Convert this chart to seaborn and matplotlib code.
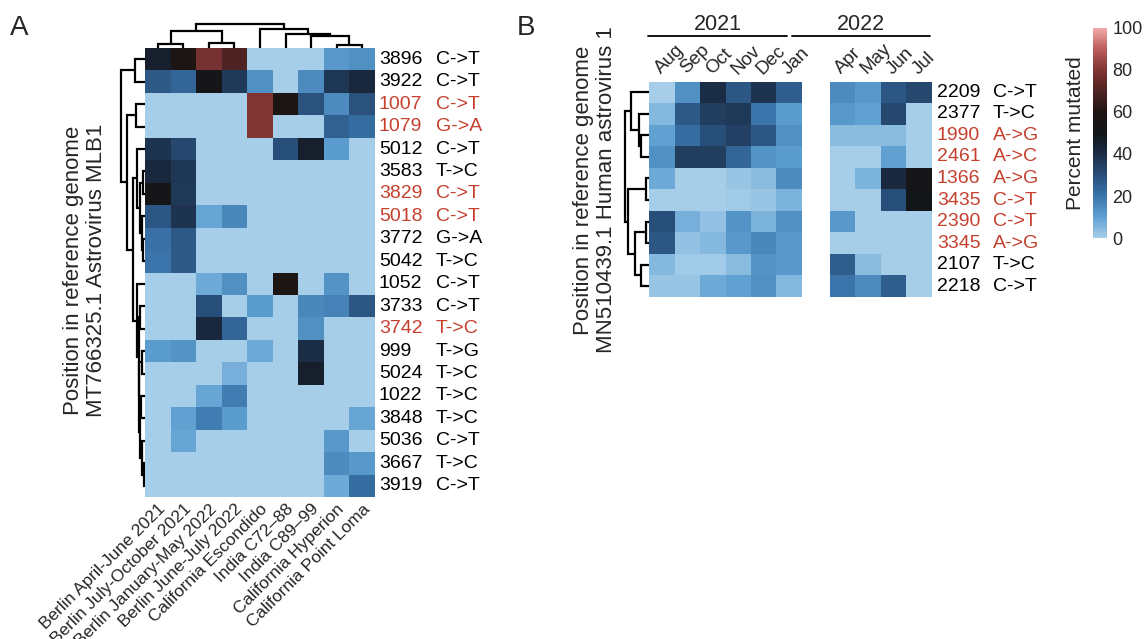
import numpy as np
import pandas as pd
import matplotlib
matplotlib.use("Agg")
import matplotlib.pyplot as plt
import seaborn as sns
from matplotlib.colors import LinearSegmentedColormap
from matplotlib.lines import Line2D
from matplotlib.transforms import blended_transform_factory, offset_copy

sns.set_theme(style="white")
plt.rcParams["font.family"] = ["Liberation Sans", "DejaVu Sans"]

# ---------------- Panel A data ----------------
a_samples = ["Berlin April-June 2021", "Berlin July-October 2021", "Berlin January-May 2022",
             "Berlin June-July 2022", "California Escondido", "India C72\u201388", "India C89\u201399",
             "California Hyperion", "California Point Loma"]
a_positions = ["3896", "3922", "1007", "1079", "5012", "3583", "3829", "5018", "3772", "5042",
               "1052", "3733", "3742", "999", "5024", "1022", "3848", "5036", "3667", "3919"]
a_mutations = ["C->T", "C->T", "C->T", "G->A", "C->T", "T->C", "C->T", "C->T", "G->A", "T->C",
               "C->T", "C->T", "T->C", "T->G", "T->C", "T->C", "T->C", "C->T", "T->C", "C->T"]
a_highlight = [False, False, True, True, False, False, True, True, False, False,
               False, False, True, False, False, False, False, False, False, False]
a_values = [
    [46, 58, 78, 70, 0, 0, 0, 12, 14],
    [27, 24, 52, 36, 14, 0, 15, 37, 42],
    [0, 0, 0, 0, 80, 58, 29, 15, 29],
    [0, 0, 0, 0, 80, 0, 0, 25, 22],
    [38, 32, 0, 0, 0, 30, 46, 11, 0],
    [42, 37, 0, 0, 0, 0, 0, 0, 0],
    [52, 36, 0, 0, 0, 0, 0, 0, 0],
    [28, 38, 9, 16, 0, 0, 0, 0, 0],
    [21, 27, 0, 0, 0, 0, 0, 0, 0],
    [20, 27, 0, 0, 0, 0, 0, 0, 0],
    [0, 0, 8, 14, 0, 58, 0, 13, 0],
    [0, 0, 30, 0, 11, 0, 16, 17, 28],
    [0, 0, 42, 24, 0, 0, 14, 0, 0],
    [11, 13, 0, 0, 8, 0, 40, 0, 0],
    [0, 0, 0, 7, 0, 0, 46, 0, 0],
    [0, 0, 9, 18, 0, 0, 0, 0, 0],
    [0, 10, 18, 11, 0, 0, 0, 0, 9],
    [0, 9, 0, 0, 0, 0, 0, 12, 0],
    [0, 0, 0, 0, 0, 0, 0, 15, 12],
    [0, 0, 0, 0, 0, 0, 0, 8, 22],
]
# dendrograms: (left, right, height); leaves are row/column indices
a_row_tree = ((0, 1, 10),
              ((2, 3, 9),
               ((4, ((5, 6, 2.5), (7, (8, 9, 2), 3.5), 5), 8.3),
                (10, ((11, 12, 5),
                      ((13, 14, 3),
                       ((15, 16, 4.5), (17, (18, 19, 1.5), 3), 5.5), 6), 6.5), 7.7),
                12.3),
               17.7),
              24)
a_col_tree = (((0, 1, 4.3), (2, 3, 5.3), 16.7),
              (4, (5, (6, (7, 8, 3.3), 12), 14.3), 18.7),
              24.3)

# ---------------- Panel B data ----------------
b_months_2021 = ["Aug", "Sep", "Oct", "Nov", "Dec", "Jan"]
b_months_2022 = ["Apr", "May", "Jun", "Jul"]
b_years = ["2021", "2022"]
b_positions = ["2209", "2377", "1990", "2461", "1366", "3435", "2390", "3345", "2107", "2218"]
b_mutations = ["C->T", "T->C", "A->G", "A->C", "A->G", "C->T", "C->T", "A->G", "T->C", "C->T"]
b_highlight = [False, False, True, True, True, True, True, True, False, False]
b_values_first = [
    [0, 14, 40, 28, 38, 26],
    [5, 27, 35, 36, 20, 11],
    [10, 22, 30, 34, 28, 14],
    [14, 35, 35, 24, 13, 11],
    [8, 0, 0, 2, 4, 15],
    [0, 0, 0, 1, 2, 6],
    [30, 7, 3, 13, 6, 14],
    [28, 3, 5, 12, 16, 12],
    [5, 1, 1, 4, 13, 12],
    [2, 2, 8, 10, 14, 5],
]
b_values_second = [
    [15, 12, 28, 32],
    [12, 10, 32, 0],
    [4, 4, 4, 0],
    [0, 0, 10, 0],
    [0, 6, 42, 52],
    [0, 0, 30, 50],
    [12, 0, 0, 0],
    [0, 0, 0, 0],
    [26, 4, 0, 0],
    [20, 15, 26, 0],
]
b_row_tree = ((0, (1, (2, 3, 7.6), 10.3), 17.6),
              ((4, 5, 3.3), ((6, 7, 3.3), (8, 9, 7.6), 13.6), 21),
              24)

cbar_ticks = [0, 20, 40, 60, 80, 100]

# ---------------- styling ----------------
W, H = 1148, 639
RED = "#c6402e"
cmap = LinearSegmentedColormap.from_list(
    "pm",
    [(0.00, "#a6cee9"), (0.10, "#5fa0d2"), (0.20, "#3a74aa"), (0.30, "#284e78"),
     (0.40, "#1a2d45"), (0.50, "#131619"), (0.60, "#1f1313"), (0.70, "#4e2323"),
     (0.80, "#803434"), (0.90, "#ba5c5c"), (1.00, "#f2a8a8")])

fig = plt.figure(figsize=(W / 100, H / 100), dpi=100)


def px_axes(x0, y0, x1, y1):
    return fig.add_axes([x0 / W, 1 - y1 / H, (x1 - x0) / W, (y1 - y0) / H])


def draw_tree(ax, tree, orient):
    def rec(node):
        if isinstance(node, int):
            return node + 0.5, 0.0
        l, r, h = node
        pl, hl = rec(l)
        pr, hr = rec(r)
        if orient == "left":
            ax.plot([hl, h, h, hr], [pl, pl, pr, pr], color="black", lw=1.6,
                    solid_joinstyle="miter", solid_capstyle="butt")
        else:
            ax.plot([pl, pl, pr, pr], [hl, h, h, hr], color="black", lw=1.6,
                    solid_joinstyle="miter", solid_capstyle="butt")
        return (pl + pr) / 2, h
    rec(tree)
    ax.set_axis_off()


# ---------------- Panel A ----------------
dfa = pd.DataFrame(a_values, index=a_positions, columns=a_samples)
axA = px_axes(145, 48, 375, 497)
cax = px_axes(1093, 28, 1107, 238)
sns.heatmap(dfa, ax=axA, cmap=cmap, vmin=0, vmax=100, cbar_ax=cax,
            xticklabels=a_samples, yticklabels=False)
axA.tick_params(axis="x", length=0, pad=3, labelsize=12.5)
for t in axA.get_xticklabels():
    t.set_rotation(45)
    t.set_ha("right")
    t.set_va("top")
    t.set_rotation_mode("anchor")
axA.set_xlabel("")
axA.set_ylabel("")
trA = blended_transform_factory(fig.transFigure, axA.transData)
for i, (p, m, hl) in enumerate(zip(a_positions, a_mutations, a_highlight)):
    c = RED if hl else "black"
    axA.text(379 / W, i + 0.5, p, transform=trA, ha="left", va="center", fontsize=14, color=c)
    axA.text(436 / W, i + 0.5, m, transform=trA, ha="left", va="center", fontsize=14, color=c)

rdA = px_axes(118, 48, 145, 497)
draw_tree(rdA, a_row_tree, "left")
rdA.set_xlim(27, 0)
rdA.set_ylim(len(a_positions), 0)

cdA = px_axes(145, 21, 375, 48)
draw_tree(cdA, a_col_tree, "top")
cdA.set_xlim(0, len(a_samples))
cdA.set_ylim(0, 27)

fig.text(85 / W, 1 - 270 / H, "Position in reference genome\nMT766325.1 Astrovirus MLB1",
         rotation=90, ha="center", va="center", fontsize=16, linespacing=1.1)

# colorbar
cax.tick_params(axis="y", length=0, pad=4, labelsize=13)
cax.set_yticks(cbar_ticks)
cax.set_yticklabels([str(t) for t in cbar_ticks])
cax.yaxis.set_label_position("left")
cax.set_ylabel("Percent mutated", fontsize=15, labelpad=6)
for s in cax.spines.values():
    s.set_visible(False)

# ---------------- Panel B ----------------
dfb1 = pd.DataFrame(b_values_first, index=b_positions, columns=b_months_2021)
dfb2 = pd.DataFrame(b_values_second, index=b_positions, columns=b_months_2022)
axB1 = px_axes(649, 81.5, 802, 297)
axB2 = px_axes(829.5, 81.5, 932, 297)
for ax, df in ((axB1, dfb1), (axB2, dfb2)):
    sns.heatmap(df, ax=ax, cmap=cmap, vmin=0, vmax=100, cbar=False,
                xticklabels=False, yticklabels=False)
    ax.set_xlabel("")
    ax.set_ylabel("")
    tr = offset_copy(blended_transform_factory(ax.transData, ax.transAxes),
                     fig=fig, x=2, y=4, units="dots")
    for j, month in enumerate(df.columns):
        ax.text(j + 0.5, 1.0, month, transform=tr, rotation=45, rotation_mode="anchor",
                ha="left", va="bottom", fontsize=13.5)

trB = blended_transform_factory(fig.transFigure, axB2.transData)
for i, (p, m, hl) in enumerate(zip(b_positions, b_mutations, b_highlight)):
    c = RED if hl else "black"
    axB2.text(937 / W, i + 0.5, p, transform=trB, ha="left", va="center", fontsize=14, color=c)
    axB2.text(993 / W, i + 0.5, m, transform=trB, ha="left", va="center", fontsize=14, color=c)

rdB = px_axes(623, 81.5, 649, 297)
draw_tree(rdB, b_row_tree, "left")
rdB.set_xlim(26, 0)
rdB.set_ylim(len(b_positions), 0)

# year headers
for year, (x0, x1) in zip(b_years, [(648, 787), (792, 930)]):
    fig.add_artist(Line2D([x0 / W, x1 / W], [1 - 36 / H, 1 - 36 / H], color="black", lw=1.3,
                          transform=fig.transFigure))
    fig.text((x0 + x1) / 2 / W, 1 - 24 / H, year, ha="center", va="center", fontsize=15.5)

fig.text(595 / W, 1 - 190 / H, "Position in reference genome\nMN510439.1 Human astrovirus 1",
         rotation=90, ha="center", va="center", fontsize=16, linespacing=1.1)

# panel letters
fig.text(10 / W, 1 - 28 / H, "A", ha="left", va="center", fontsize=20)
fig.text(517 / W, 1 - 28 / H, "B", ha="left", va="center", fontsize=20)

fig.savefig("out.png", dpi=100, facecolor="white")
